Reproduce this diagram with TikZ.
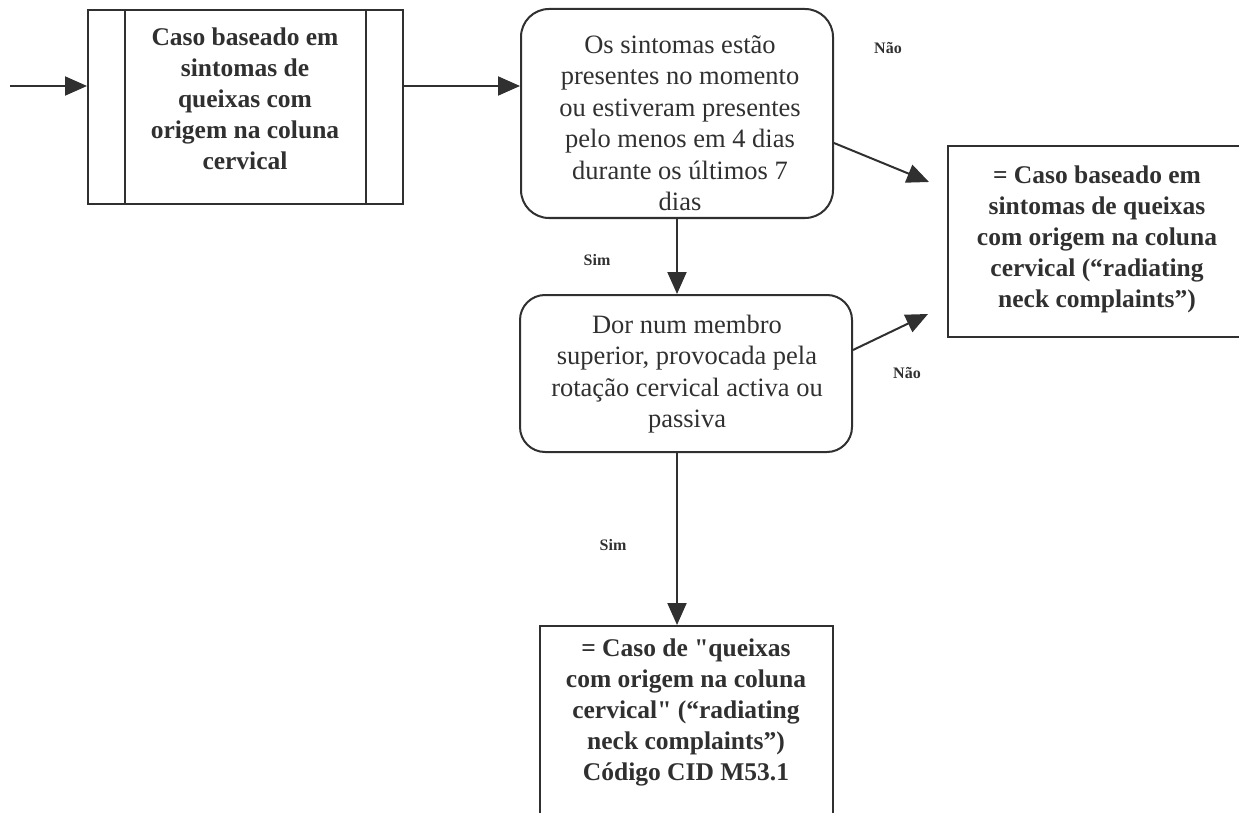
\documentclass[tikz,border=0pt]{standalone}
\usepackage{fontspec}
\setmainfont{Liberation Serif}[Ligatures=TeXReset]
\usetikzlibrary{arrows.meta}
\definecolor{ink}{HTML}{303030}
\begin{document}
\begin{tikzpicture}[x=1pt,y=-1pt,
  box/.style={draw=ink, line width=2pt, inner sep=0pt},
  roundbox/.style={box, rounded corners=28pt},
  plaintext/.style={text=ink, align=center, inner sep=0pt, font=\fontsize{26.5}{31.5}\selectfont},
  boldtext/.style={text=ink, align=center, inner sep=0pt, font=\fontsize{25.5}{31}\selectfont\bfseries},
  answer/.style={text=ink, inner sep=0pt, font=\fontsize{16}{18}\selectfont\bfseries},
  flow/.style={draw=ink, line width=2pt, -{Triangle[length=22pt,width=19pt]}},
]
\useasboundingbox (0,0) rectangle (1239,813);
\clip (0,0) rectangle (1239,813);

% boxes
\node[box, minimum width=315pt, minimum height=194pt] (b1) at (245.5,107) {};
\draw[ink, line width=2pt] ([xshift=38pt]b1.north west) -- ([xshift=38pt]b1.south west);
\draw[ink, line width=2pt] ([xshift=-38pt]b1.north east) -- ([xshift=-38pt]b1.south east);
\node[boldtext] (t1) at (245,99) {Caso baseado em\\sintomas de\\queixas com\\origem na coluna\\cervical};

\node[roundbox, minimum width=312pt, minimum height=209pt] (b2) at (677,113.5) {};
\node[plaintext] (t2) at (680,123) {Os sintomas estão\\presentes no momento\\ou estiveram presentes\\pelo menos em 4 dias\\durante os últimos 7\\dias};

\node[box, minimum width=312pt, minimum height=191pt] (b3) at (1104,241.5) {};
\node[boldtext] (t3) at (1097,239) {= Caso baseado em\\sintomas de queixas\\com origem na coluna\\cervical (“radiating\\neck complaints”)};

\node[roundbox, rounded corners=25pt, minimum width=332pt, minimum height=157pt] (b4) at (686,373.5) {};
\node[plaintext] (t4) at (687,374) {Dor num membro\\superior, provocada pela\\rotação cervical activa ou\\passiva};

\node[box, minimum width=293pt, minimum height=240pt] (b5) at (686.5,746) {};
\node[boldtext] (t5) at (686,712) {= Caso de "queixas\\com origem na coluna\\cervical" (“radiating\\neck complaints”)\\Código CID M53.1};

% connectors
\coordinate (entry) at (10,86);
\draw[flow] (entry) -- (entry -| b1.west);
\draw[flow] (entry -| b1.east) -- (entry -| b2.west);

\coordinate (tipA) at (929,182);
\draw[flow] (b2.east |- 0,143) -- (tipA);
\coordinate (tipB) at (928,314);
\draw[flow] (b4.east |- 0,350) -- (tipB);

\coordinate (axis) at (677,0);
\draw[flow] (axis |- b2.south) -- (axis |- b4.north);
\draw[flow] (axis |- b4.south) -- (axis |- b5.north);

% answers
\node[answer] (n1) at (888,48) {Não};
\node[answer] (s1) at (597,260) {Sim};
\node[answer] (n2) at (907,373) {Não};
\node[answer] (s2) at (613,545) {Sim};
\end{tikzpicture}
\end{document}
